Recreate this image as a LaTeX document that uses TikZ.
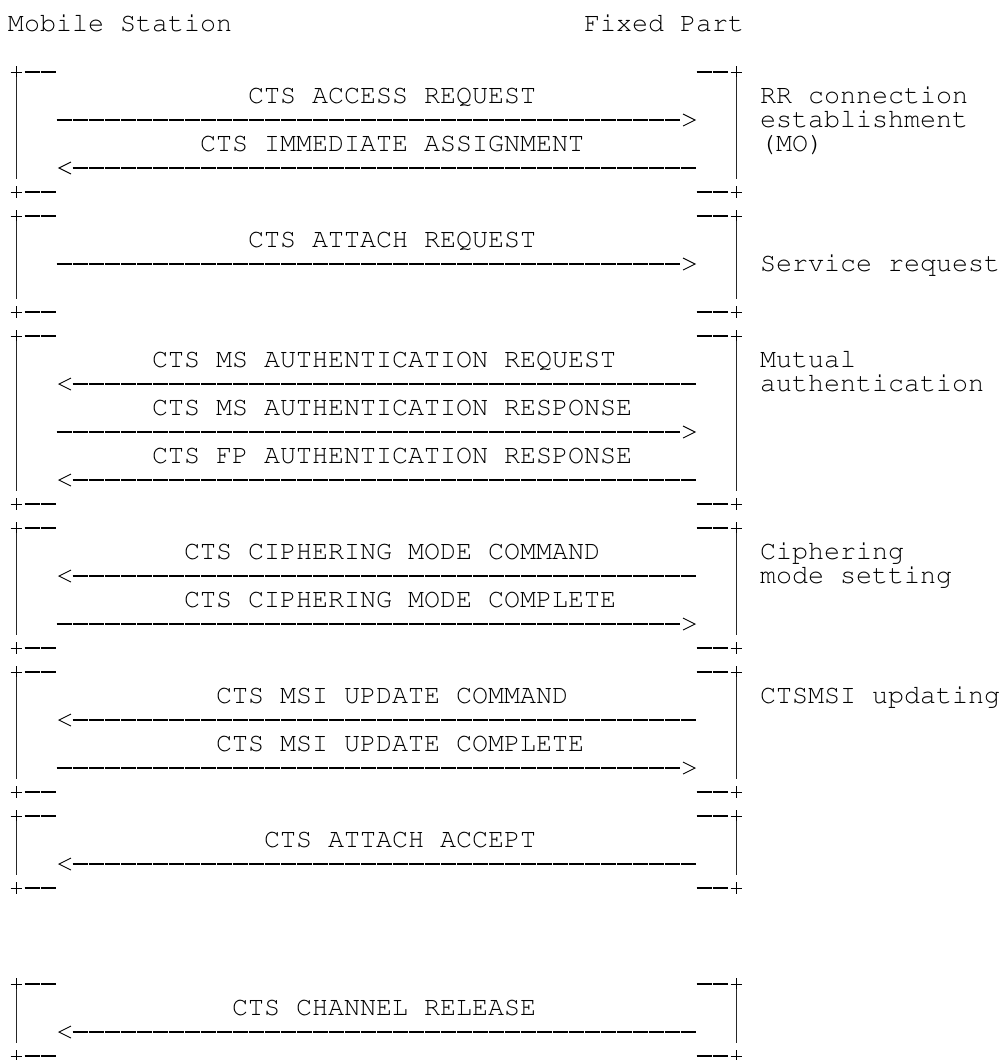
\documentclass[tikz,border=0pt]{standalone}
\usepackage[T1]{fontenc}
\usepackage{courier}
\tikzset{
  txt/.style={anchor=base west, inner sep=0pt, outer sep=0pt,
    font=\fontsize{26.67pt}{24pt}\selectfont\ttfamily, align=left},
  dashbar/.style={line width=2.7pt, dash pattern=on 15pt off 1pt},
  vbar/.style={line width=1.5pt, black!85},
  crossline/.style={line width=0.9pt},
  tipline/.style={line width=0.9pt, line join=miter},
}
\begin{document}
\begin{tikzpicture}[x=1pt,y=-1pt]
\useasboundingbox (0,0) rectangle (1005,1060);

% headers
\node[txt] (ms) at (8,31.5) {Mobile Station};
\node[txt] (fp) at (584,31.5) {Fixed Part};

% frames
\foreach \t/\b in {2/7,8/12,13/20,21/26,27/32,33/36,40/43}{
  \pgfmathsetmacro{\yt}{24*(\t+1)}
  \pgfmathsetmacro{\yb}{24*(\b+1)}
  % left side
  \draw[crossline] (10.5,\yt) -- (21.5,\yt) (16,\yt-6) -- (16,\yt+6);
  \draw[crossline] (10.5,\yb) -- (21.5,\yb) (16,\yb-6) -- (16,\yb+6);
  \draw[dashbar] (24.5,\yt) -- (56,\yt);
  \draw[dashbar] (24.5,\yb) -- (56,\yb);
  \coordinate (lt\t) at (16.7,\yt+5);
  \coordinate (lb\t) at (16.7,\yb-13);
  \draw[vbar] (lt\t) -- (lb\t);
  % right side
  \draw[crossline] (730.5,\yt) -- (741.5,\yt) (736,\yt-6) -- (736,\yt+6);
  \draw[crossline] (730.5,\yb) -- (741.5,\yb) (736,\yb-6) -- (736,\yb+6);
  \draw[dashbar] (696.5,\yt) -- (728,\yt);
  \draw[dashbar] (696.5,\yb) -- (728,\yb);
  \coordinate (rt\t) at (736.7,\yt+5);
  \coordinate (rb\t) at (736.7,\yb-13);
  \draw[vbar] (rt\t) -- (rb\t);
}

% messages
\foreach \r/\c/\m in {
  3/15/CTS ACCESS REQUEST,
  5/12/CTS IMMEDIATE ASSIGNMENT,
  9/15/CTS ATTACH REQUEST,
  14/9/CTS MS AUTHENTICATION REQUEST,
  16/9/CTS MS AUTHENTICATION RESPONSE,
  18/9/CTS FP AUTHENTICATION RESPONSE,
  22/11/CTS CIPHERING MODE COMMAND,
  24/11/CTS CIPHERING MODE COMPLETE,
  28/13/CTS MSI UPDATE COMMAND,
  30/13/CTS MSI UPDATE COMPLETE,
  34/16/CTS ATTACH ACCEPT,
  41/14/CTS CHANNEL RELEASE}{
  \node[txt] (m\r) at ({8+16*\c},{24*(\r+1)+7.5}) {\m};
}

% arrows to the right (Mobile Station -> Fixed Part)
\foreach \r in {4,10,17,25,31}{
  \pgfmathsetmacro{\y}{24*(\r+1)}
  \coordinate (s\r) at (56.5,\y);
  \coordinate (e\r) at (680,\y);
  \draw[dashbar] (s\r) -- (e\r);
  \draw[tipline] (683,\y-6) -- (695,\y) -- (683,\y+6);
}

% arrows to the left (Fixed Part -> Mobile Station)
\foreach \r in {6,15,19,23,29,35,42}{
  \pgfmathsetmacro{\y}{24*(\r+1)}
  \coordinate (s\r) at (696,\y);
  \coordinate (e\r) at (72.5,\y);
  \draw[dashbar] (e\r) -- (s\r);
  \draw[tipline] (71,\y-6) -- (59,\y) -- (71,\y+6);
}

% phase annotations (base anchor = baseline of the last line)
\node[txt] (n1) at (760,151.5) {RR connection\\establishment\\(MO)};
\node[txt] (n2) at (760,271.5) {Service request};
\node[txt] (n3) at (760,391.5) {Mutual\\authentication};
\node[txt] (n4) at (760,583.5) {Ciphering\\mode setting};
\node[txt] (n5) at (760,703.5) {CTSMSI updating};
\end{tikzpicture}
\end{document}
